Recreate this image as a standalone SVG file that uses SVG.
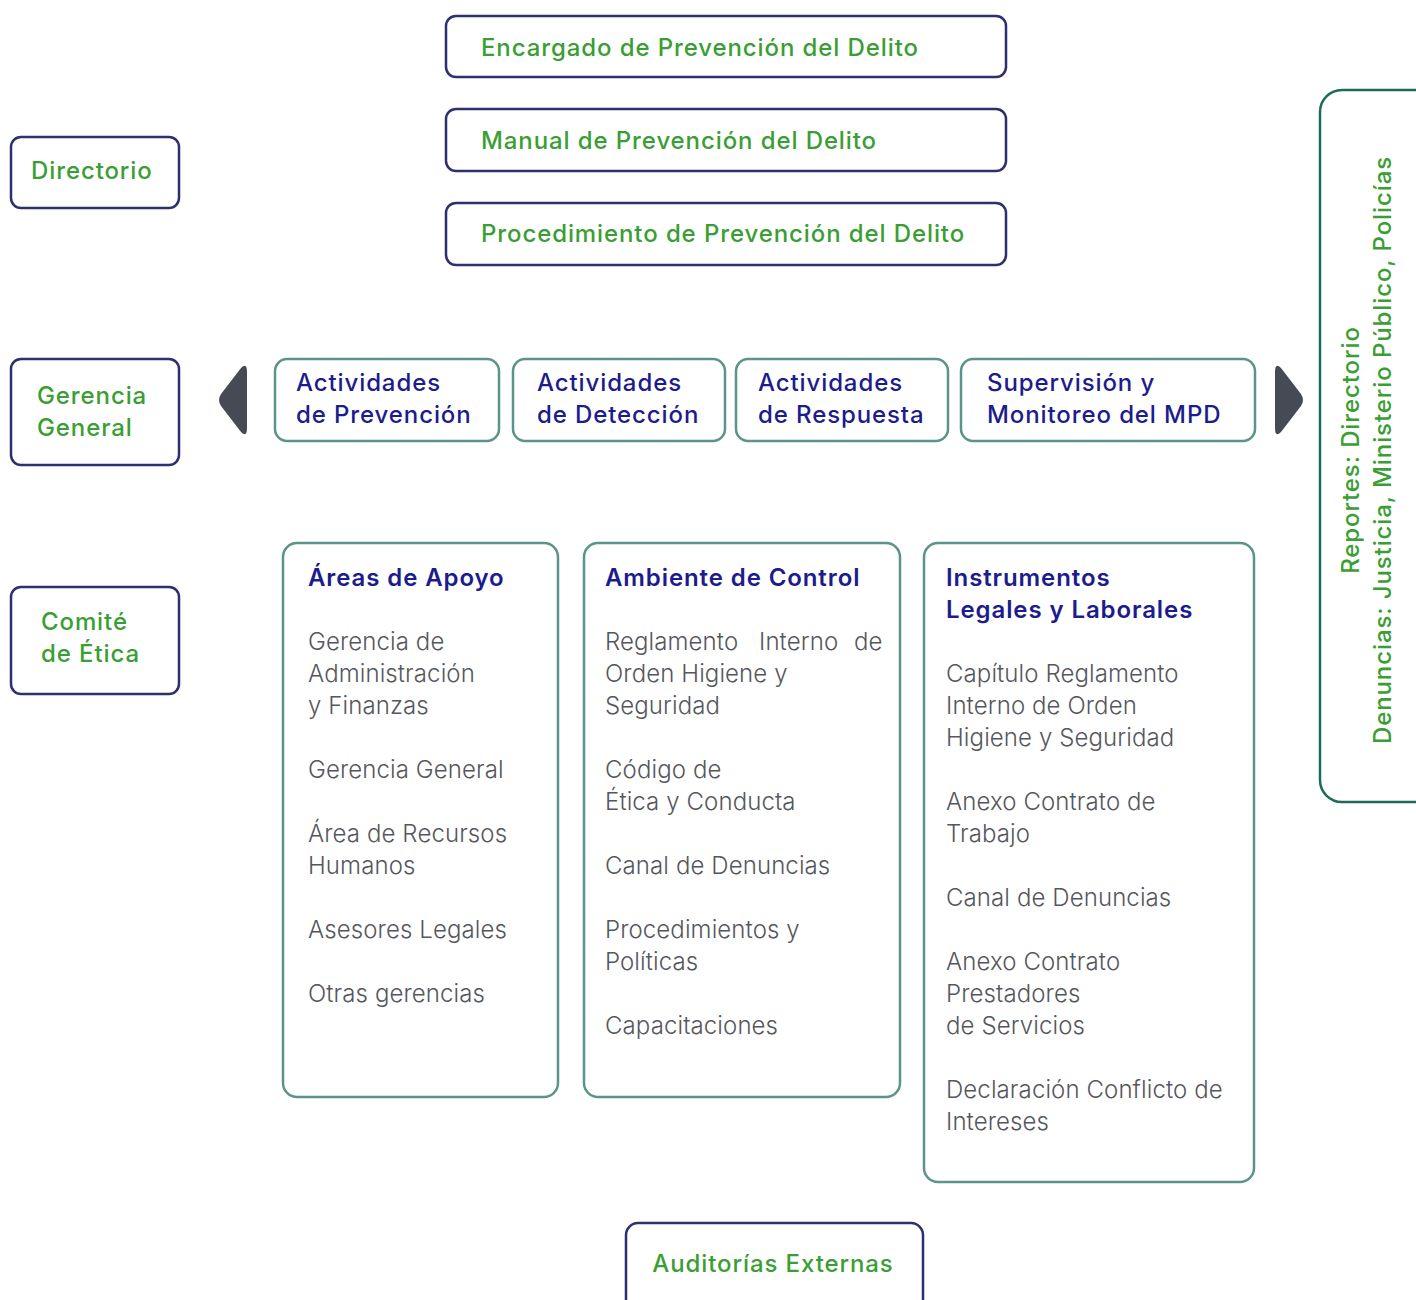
<svg xmlns="http://www.w3.org/2000/svg" width="1416" height="1300" viewBox="0 0 1416 1300">
<style>
.nb{fill:#fff;stroke:#2e2f6e;stroke-width:2.5}
.tb{fill:#fff;stroke:#5b9488;stroke-width:2.5}
.rb{fill:#fff;stroke:#1f6b58;stroke-width:2.5}
.g{font-family:Inter,"Liberation Sans",sans-serif;font-size:24px;font-weight:500;fill:#3a9e34;letter-spacing:0.9px}
.h{font-family:Inter,"Liberation Sans",sans-serif;font-size:24px;font-weight:500;fill:#1c1c8c;letter-spacing:0.9px}
.hb{font-family:Inter,"Liberation Sans",sans-serif;font-size:24px;font-weight:600;fill:#1c1c8c;letter-spacing:0.9px}
.i{font-family:Inter,"Liberation Sans",sans-serif;font-size:24px;font-weight:300;fill:#55575d;letter-spacing:0.1px}
.ar{fill:#464a55}
</style>
<rect width="1416" height="1300" fill="#fff"/>
<g id="encargado"><rect class="nb" x="446" y="16" width="560" height="61" rx="10"/><text class="g" x="481" y="56">Encargado de Prevención del Delito</text></g>
<g id="manual"><rect class="nb" x="446" y="109" width="560" height="62" rx="10"/><text class="g" x="481" y="149">Manual de Prevención del Delito</text></g>
<g id="procedimiento"><rect class="nb" x="446" y="203" width="560" height="62" rx="10"/><text class="g" x="481" y="242">Procedimiento de Prevención del Delito</text></g>
<g id="directorio"><rect class="nb" x="11" y="137" width="168" height="71" rx="10"/><text class="g" x="31" y="179">Directorio</text></g>
<g id="gerencia"><rect class="nb" x="11" y="359" width="168" height="106" rx="10"/><text class="g" x="37" y="404">Gerencia</text><text class="g" x="37" y="436">General</text></g>
<g id="comite"><rect class="nb" x="11" y="587" width="168" height="107" rx="10"/><text class="g" x="41" y="630">Comité</text><text class="g" x="41" y="662">de Ética</text></g>
<g id="connectors">
<path class="ar" d="M247,372 Q247,362 241,368 L221,394 Q217,400 221,406 L241,432 Q247,438 247,428 Z"/>
<path class="ar" d="M1275,372 Q1275,362 1281,368 L1301,394 Q1305,400 1301,406 L1281,432 Q1275,438 1275,428 Z"/>
</g>
<g id="prevencion"><rect class="tb" x="275" y="359" width="224" height="82" rx="12"/><text class="h" x="296" y="391">Actividades</text><text class="h" x="296" y="423">de Prevención</text></g>
<g id="deteccion"><rect class="tb" x="513" y="359" width="212" height="82" rx="12"/><text class="h" x="537" y="391">Actividades</text><text class="h" x="537" y="423">de Detección</text></g>
<g id="respuesta"><rect class="tb" x="736" y="359" width="212" height="82" rx="12"/><text class="h" x="758" y="391">Actividades</text><text class="h" x="758" y="423">de Respuesta</text></g>
<g id="supervision"><rect class="tb" x="961" y="359" width="294" height="82" rx="12"/><text class="h" x="987" y="391">Supervisión y</text><text class="h" x="987" y="423">Monitoreo del MPD</text></g>
<g id="areas"><rect class="tb" x="283" y="543" width="275" height="554" rx="14"/>
<text class="hb" x="308" y="586">Áreas de Apoyo</text>
<text class="i" x="308" y="650">Gerencia de</text><text class="i" x="308" y="682">Administración</text><text class="i" x="308" y="714">y Finanzas</text>
<text class="i" x="308" y="778">Gerencia General</text>
<text class="i" x="308" y="842">Área de Recursos</text><text class="i" x="308" y="874">Humanos</text>
<text class="i" x="308" y="938">Asesores Legales</text>
<text class="i" x="308" y="1002">Otras gerencias</text>
</g>
<g id="ambiente"><rect class="tb" x="584" y="543" width="316" height="554" rx="14"/>
<text class="hb" x="605" y="586">Ambiente de Control</text>
<text class="i" y="650"><tspan x="605">Reglamento</tspan> <tspan x="759">Interno</tspan> <tspan x="854">de</tspan></text><text class="i" x="605" y="682">Orden Higiene y</text><text class="i" x="605" y="714">Seguridad</text>
<text class="i" x="605" y="778">Código de</text><text class="i" x="605" y="810">Ética y Conducta</text>
<text class="i" x="605" y="874">Canal de Denuncias</text>
<text class="i" x="605" y="938">Procedimientos y</text><text class="i" x="605" y="970">Políticas</text>
<text class="i" x="605" y="1034">Capacitaciones</text>
</g>
<g id="instrumentos"><rect class="tb" x="924" y="543" width="330" height="639" rx="14"/>
<text class="hb" x="946" y="586">Instrumentos</text><text class="hb" x="946" y="618">Legales y Laborales</text>
<text class="i" x="946" y="682">Capítulo Reglamento</text><text class="i" x="946" y="714">Interno de Orden</text><text class="i" x="946" y="746">Higiene y Seguridad</text>
<text class="i" x="946" y="810">Anexo Contrato de</text><text class="i" x="946" y="842">Trabajo</text>
<text class="i" x="946" y="906">Canal de Denuncias</text>
<text class="i" x="946" y="970">Anexo Contrato</text><text class="i" x="946" y="1002">Prestadores</text><text class="i" x="946" y="1034">de Servicios</text>
<text class="i" x="946" y="1098">Declaración Conflicto de</text><text class="i" x="946" y="1130">Intereses</text>
</g>
<g id="reportes"><rect class="rb" x="1320" y="90" width="130" height="712" rx="22"/>
<text class="g" font-weight="400" transform="translate(1359,450) rotate(-90)" text-anchor="middle">Reportes: Directorio</text>
<text class="g" font-weight="400" transform="translate(1391,450) rotate(-90)" text-anchor="middle">Denuncias: Justicia, Ministerio Público, Policías</text>
</g>
<g id="auditorias"><rect class="nb" x="626" y="1223" width="297" height="100" rx="12"/><text class="g" x="773" y="1272" text-anchor="middle">Auditorías Externas</text></g>
</svg>
